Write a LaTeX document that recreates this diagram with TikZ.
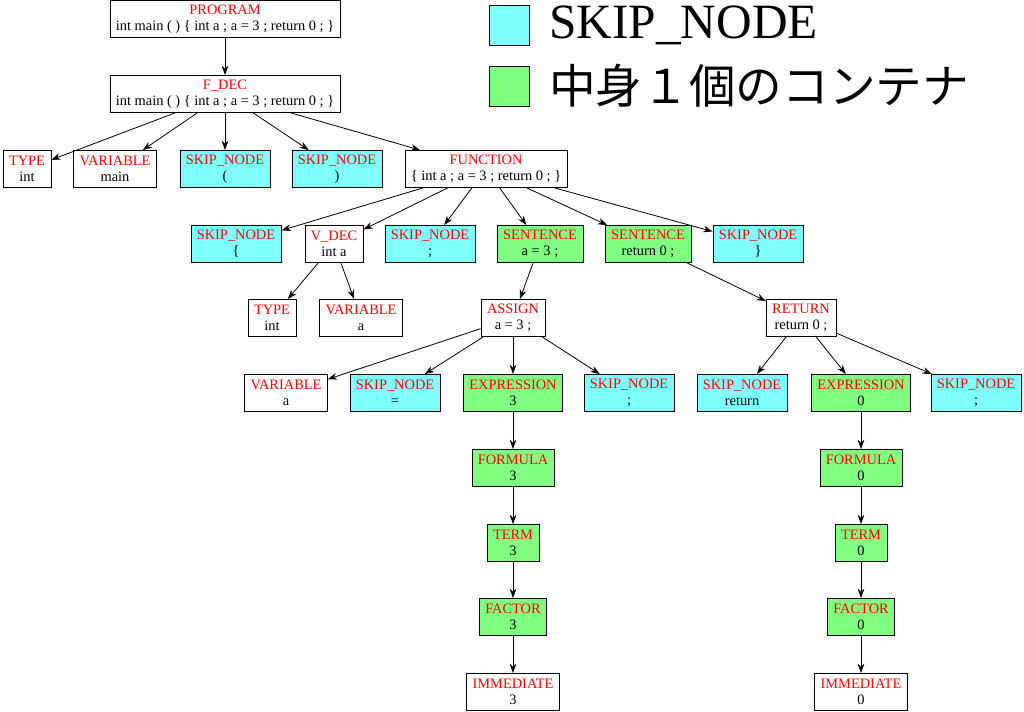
\documentclass[tikz,border=0pt]{standalone}
\usepackage{fontspec}
\setmainfont{Liberation Serif}
\newfontfamily\cjk{Noto Sans CJK JP}
\usetikzlibrary{arrows.meta}
\definecolor{skipc}{HTML}{80FFFF}
\definecolor{contc}{HTML}{80FF80}
\newcommand{\nd}[2]{{\color{red}#1}\\#2}
\begin{document}
\begin{tikzpicture}[x=0.75pt,y=-0.75pt,
  n/.style={draw,fill=white,align=center,font=\fontsize{10.8}{12}\selectfont,inner xsep=4.5pt,minimum height=28pt,inner ysep=1pt},
  sk/.style={n,fill=skipc},
  ct/.style={n,fill=contc},
  a/.style={-{Stealth[length=7pt,width=5pt]},semithick}]
\useasboundingbox (0,0) rectangle (1024,712);
\node[n] (prog) at (225,19) {\nd{PROGRAM}{int main ( ) \{ int a ; a = 3 ; return 0 ; \}}};
\node[n] (fdec) at (225,94) {\nd{F\_DEC}{int main ( ) \{ int a ; a = 3 ; return 0 ; \}}};
\node[n] (t1) at (27,169) {\nd{TYPE}{int}};
\node[n] (v1) at (115,169) {\nd{VARIABLE}{main}};
\node[sk] (s1) at (225,169) {\nd{SKIP\_NODE}{(}};
\node[sk] (s2) at (337,169) {\nd{SKIP\_NODE}{)}};
\node[n] (fn) at (486,169) {\nd{FUNCTION}{\{ int a ; a = 3 ; return 0 ; \}}};
\node[sk] (s3) at (236,244) {\nd{SKIP\_NODE}{\{}};
\node[n] (vd) at (334,244) {\nd{V\_DEC}{int a}};
\node[sk] (s4) at (430,244) {\nd{SKIP\_NODE}{;}};
\node[ct] (se1) at (540,244) {\nd{SENTENCE}{a = 3 ;}};
\node[ct] (se2) at (648,244) {\nd{SENTENCE}{return 0 ;}};
\node[sk] (s5) at (758,244) {\nd{SKIP\_NODE}{\}}};
\node[n] (t2) at (272,318) {\nd{TYPE}{int}};
\node[n] (v2) at (361,318) {\nd{VARIABLE}{a}};
\node[n] (as) at (513,318) {\nd{ASSIGN}{a = 3 ;}};
\node[n] (ret) at (801,318) {\nd{RETURN}{return 0 ;}};
\node[n] (v3) at (286,393) {\nd{VARIABLE}{a}};
\node[sk] (s6) at (395,393) {\nd{SKIP\_NODE}{=}};
\node[ct] (e1) at (513,393) {\nd{EXPRESSION}{3}};
\node[sk] (s7) at (629,393) {\nd{SKIP\_NODE}{;}};
\node[sk] (s8) at (742,393) {\nd{SKIP\_NODE}{return}};
\node[ct] (e2) at (861,393) {\nd{EXPRESSION}{0}};
\node[sk] (s9) at (976,393) {\nd{SKIP\_NODE}{;}};
\node[ct] (f1) at (513,468) {\nd{FORMULA}{3}};
\node[ct] (f2) at (861,468) {\nd{FORMULA}{0}};
\node[ct] (te1) at (513,543) {\nd{TERM}{3}};
\node[ct] (te2) at (861,543) {\nd{TERM}{0}};
\node[ct] (fa1) at (513,617) {\nd{FACTOR}{3}};
\node[ct] (fa2) at (861,617) {\nd{FACTOR}{0}};
\node[n] (im1) at (513,692) {\nd{IMMEDIATE}{3}};
\node[n] (im2) at (861,692) {\nd{IMMEDIATE}{0}};
\foreach \p/\c in {prog/fdec,fdec/t1,fdec/v1,fdec/s1,fdec/s2,fdec/fn,fn/s3,fn/vd,fn/s4,fn/se1,fn/se2,fn/s5,vd/t2,vd/v2,se1/as,se2/ret,as/v3,as/s6,as/e1,as/s7,ret/s8,ret/e2,ret/s9,e1/f1,f1/te1,te1/fa1,fa1/im1,e2/f2,f2/te2,te2/fa2,fa2/im2}
  \draw[a] (\p) -- (\c);
\node[draw,fill=skipc,minimum size=30pt,inner sep=0pt] (l1) at (509,25) {};
\node[anchor=west,font=\fontsize{37}{40}\selectfont,inner sep=0pt] (l1t) at (549,25) {SKIP\_NODE};
\node[draw,fill=contc,minimum size=30pt,inner sep=0pt] (l2) at (509,86) {};
\node[anchor=west,font=\cjk\fontsize{35}{40}\selectfont,inner sep=0pt] (l2t) at (549,86) {中身１個のコンテナ};
\end{tikzpicture}
\end{document}
